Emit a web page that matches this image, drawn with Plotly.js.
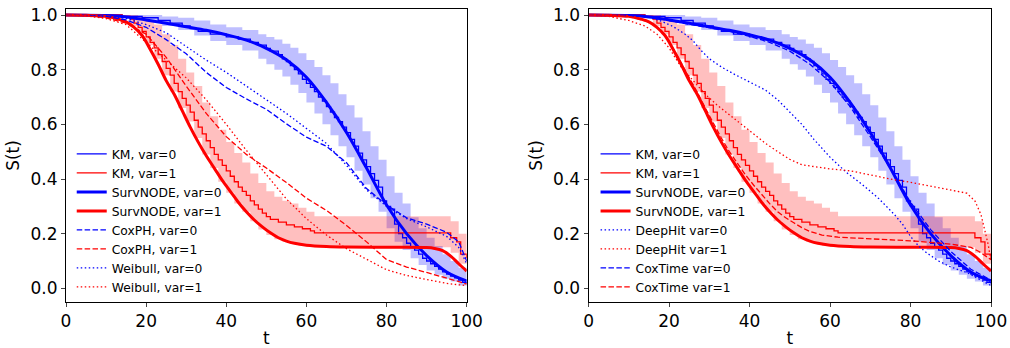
<!DOCTYPE html>
<html>
<head>
<meta charset="utf-8">
<script src="https://cdn.plot.ly/plotly-3.0.1.min.js"></script>
<style>html,body{margin:0;padding:0;background:#fff;}#chart{width:1010px;height:348px;}</style>
</head>
<body>
<div id="chart"></div>
<script>
// ---------- Kaplan-Meier estimates (step functions) ----------
const tKM0 = [0,14,19,23,26,29,31,33,36,40,43,46,48,50,51,53,54,55,56,57,58,59,60,61,62,63,64,65,66,67,68,69,70,71,72,73,74,75,76,77,78,79,80,81,82,83,84,85,86,87,88,89,90,91,92,93,94,95,96,97,98,99,100];
const sKM0 = [1.0,0.995,0.99,0.98,0.97,0.96,0.95,0.94,0.93,0.92,0.912,0.9,0.89,0.878,0.868,0.855,0.84,0.83,0.815,0.8,0.785,0.765,0.75,0.735,0.72,0.7,0.685,0.665,0.645,0.625,0.61,0.59,0.57,0.545,0.52,0.495,0.47,0.445,0.42,0.395,0.37,0.32,0.3,0.29,0.235,0.2,0.185,0.165,0.15,0.14,0.125,0.11,0.1,0.09,0.08,0.07,0.06,0.052,0.045,0.038,0.03,0.022,0.018];
const tKM1 = [0,14,16,17,18,19,20,21,22,23,24,25,26,27,28,29,30,31,32,33,34,35,36,37,38,39,40,41,42,43,44,45,46,47,48,49,50,51,53,55,57,59,61,62,96,97.5,98.5,100];
const sKM1 = [1.0,0.995,0.985,0.97,0.955,0.94,0.92,0.9,0.88,0.855,0.83,0.805,0.78,0.75,0.72,0.695,0.67,0.645,0.615,0.59,0.565,0.54,0.515,0.49,0.47,0.45,0.43,0.41,0.39,0.37,0.355,0.34,0.32,0.305,0.29,0.275,0.262,0.252,0.242,0.232,0.225,0.218,0.21,0.203,0.185,0.17,0.125,0.11];

// ---------- KM confidence bands ----------
const tBand0 = [0,14,20,24,28,32,36,40,44,48,50,52,54,56,58,60,62,64,66,68,70,72,74,76,78,80,82,84,86,88,90,92,94,96,98,100];
const loBand0 = [1,0.99,0.975,0.96,0.945,0.925,0.905,0.89,0.87,0.84,0.82,0.8,0.775,0.745,0.715,0.68,0.64,0.6,0.56,0.52,0.48,0.43,0.38,0.33,0.28,0.22,0.17,0.14,0.11,0.085,0.065,0.05,0.035,0.025,0.01,0.005];
const hiBand0 = [1,1,1,0.995,0.99,0.98,0.965,0.955,0.945,0.93,0.92,0.91,0.895,0.88,0.86,0.835,0.81,0.78,0.75,0.71,0.67,0.625,0.575,0.52,0.47,0.41,0.35,0.31,0.26,0.22,0.185,0.155,0.125,0.1,0.075,0.06];
const tBand1 = [0,12,16,18,20,22,24,26,28,30,32,34,36,38,40,42,44,46,48,50,52,54,56,58,60,62,94,96,98,100];
const loBand1 = [1,0.99,0.96,0.93,0.89,0.84,0.78,0.72,0.66,0.61,0.55,0.49,0.44,0.39,0.35,0.31,0.28,0.245,0.215,0.195,0.18,0.17,0.162,0.156,0.152,0.15,0.15,0.13,0.09,0.06];
const hiBand1 = [1,1,1,0.995,0.98,0.965,0.93,0.89,0.84,0.79,0.74,0.68,0.63,0.58,0.535,0.495,0.46,0.42,0.385,0.355,0.335,0.32,0.31,0.295,0.28,0.264,0.264,0.245,0.2,0.18];

// ---------- SurvNODE ----------
const tNODE0 = [0,10,15,20,25,30,35,40,45,50,55,60,65,70,75,80,85,90,95,100];
const sNODE0 = [1.0,0.998,0.993,0.982,0.97,0.957,0.944,0.928,0.908,0.878,0.836,0.772,0.68,0.57,0.44,0.305,0.2,0.12,0.06,0.027];
const tNODE1 = [0,5,10,13,15,17,19,21,23,25,27,29,31,33,35,37,39,41,43,45,47,49,51,53,55,57,60,65,70,80,90,92,94,96,98,100];
const sNODE1 = [1.0,0.999,0.995,0.985,0.975,0.955,0.925,0.875,0.82,0.76,0.71,0.65,0.59,0.535,0.485,0.44,0.395,0.355,0.315,0.28,0.25,0.225,0.203,0.185,0.173,0.165,0.158,0.153,0.151,0.15,0.149,0.146,0.138,0.118,0.09,0.063];

// ---------- CoxPH / Weibull (left panel) ----------
const tParam = [0,5,10,15,20,25,30,35,40,45,50,55,60,65,70,75,80,85,90,95,98,100];
const sCoxPH0 = [1,0.999,0.995,0.982,0.955,0.91,0.858,0.79,0.735,0.693,0.655,0.602,0.553,0.52,0.46,0.365,0.305,0.258,0.235,0.205,0.17,0.1];
const sCoxPH1 = [1,0.998,0.99,0.97,0.93,0.845,0.74,0.64,0.555,0.49,0.44,0.387,0.33,0.285,0.23,0.17,0.105,0.078,0.058,0.038,0.025,0.015];
const sWeib0 = [1,0.999,0.996,0.988,0.965,0.935,0.885,0.835,0.79,0.74,0.69,0.64,0.585,0.53,0.45,0.36,0.3,0.255,0.225,0.19,0.15,0.09];
const sWeib1 = [1,0.997,0.987,0.965,0.9,0.835,0.77,0.69,0.6,0.505,0.415,0.327,0.255,0.195,0.145,0.105,0.068,0.047,0.032,0.018,0.013,0.01];

// ---------- DeepHit / CoxTime (right panel) ----------
const tDH0 = [0,10,15,18,21,24,26,28,30,33,36,40,44,47,50,53,56,60,64,68,72,76,78,80,82,84,87,90,94,97,100];
const sDH0 = [1.0,0.998,0.993,0.978,0.958,0.93,0.905,0.87,0.84,0.81,0.785,0.755,0.725,0.69,0.645,0.6,0.545,0.48,0.425,0.38,0.33,0.27,0.235,0.19,0.155,0.13,0.1,0.078,0.058,0.035,0.01];
const tDH1 = [0,5,10,14,17,20,23,26,29,32,35,38,41,44,47,50,53,56,60,65,70,75,80,85,90,94,96,97.5,98.5,99.3,100];
const sDH1 = [1.0,0.995,0.98,0.96,0.93,0.88,0.81,0.76,0.71,0.67,0.635,0.6,0.565,0.53,0.5,0.472,0.452,0.445,0.437,0.43,0.415,0.4,0.388,0.373,0.36,0.348,0.32,0.27,0.21,0.16,0.1];
const tCT0 = [0,10,15,20,25,30,35,40,45,50,55,60,65,70,75,80,85,90,95,100];
const sCT0 = [1.0,0.998,0.993,0.98,0.968,0.955,0.94,0.922,0.9,0.868,0.82,0.755,0.665,0.555,0.44,0.315,0.215,0.135,0.07,0.03];
const tCT1 = [0,5,10,15,17,19,21,23,25,27,29,31,33,35,37,39,41,43,45,47,49,51,53,55,58,62,70,80,90,95,97,99,100];
const sCT1 = [1.0,0.999,0.995,0.975,0.955,0.925,0.878,0.825,0.767,0.718,0.66,0.603,0.55,0.5,0.457,0.415,0.378,0.342,0.31,0.28,0.258,0.24,0.222,0.208,0.195,0.187,0.182,0.174,0.162,0.15,0.135,0.115,0.105];

const xTicks = [0,20,40,60,80,100];
const yTicks = [0,0.2,0.4,0.6,0.8,1.0];

const BLUE = '#0000ff', RED = '#ff0000';
const DASH = '5.5px,2.4px', DOT = '1.5px,2.5px';

function band(t, lo, hi, color, xa, ya, leg){
  return [
    {x:t, y:lo, xaxis:xa, yaxis:ya, type:'scatter', mode:'lines', line:{width:0, shape:'hv'}, showlegend:false, legend:leg, hoverinfo:'skip'},
    {x:t, y:hi, xaxis:xa, yaxis:ya, type:'scatter', mode:'lines', line:{width:0, shape:'hv'}, fill:'tonexty', fillcolor:color, showlegend:false, legend:leg, hoverinfo:'skip'}
  ];
}
function line(t, s, name, color, width, dash, shape, xa, ya, leg){
  return {x:t, y:s, name:name, xaxis:xa, yaxis:ya, type:'scatter', mode:'lines',
          line:{color:color, width:width, dash:dash, shape:shape}, legend:leg, hoverinfo:'skip'};
}
function common(xa, ya, leg){
  return [].concat(
    band(tBand0, loBand0, hiBand0, 'rgba(0,0,255,0.25)', xa, ya, leg),
    band(tBand1, loBand1, hiBand1, 'rgba(255,0,0,0.25)', xa, ya, leg),
    [line(tKM0, sKM0, 'KM, var=0', BLUE, 1.3, 'solid', 'hv', xa, ya, leg),
     line(tKM1, sKM1, 'KM, var=1', RED, 1.3, 'solid', 'hv', xa, ya, leg),
     line(tNODE0, sNODE0, 'SurvNODE, var=0', BLUE, 3, 'solid', 'spline', xa, ya, leg),
     line(tNODE1, sNODE1, 'SurvNODE, var=1', RED, 3, 'solid', 'spline', xa, ya, leg)]
  );
}

const traces = [].concat(
  common('x', 'y', 'legend'),
  [line(tParam, sCoxPH0, 'CoxPH, var=0', BLUE, 1.3, DASH, 'linear', 'x', 'y', 'legend'),
   line(tParam, sCoxPH1, 'CoxPH, var=1', RED, 1.3, DASH, 'linear', 'x', 'y', 'legend'),
   line(tParam, sWeib0, 'Weibull, var=0', BLUE, 1.3, DOT, 'linear', 'x', 'y', 'legend'),
   line(tParam, sWeib1, 'Weibull, var=1', RED, 1.3, DOT, 'linear', 'x', 'y', 'legend')],
  common('x2', 'y2', 'legend2'),
  [line(tDH0, sDH0, 'DeepHit var=0', BLUE, 1.3, DOT, 'linear', 'x2', 'y2', 'legend2'),
   line(tDH1, sDH1, 'DeepHit var=1', RED, 1.3, DOT, 'linear', 'x2', 'y2', 'legend2'),
   line(tCT0, sCT0, 'CoxTime var=0', BLUE, 1.3, DASH, 'linear', 'x2', 'y2', 'legend2'),
   line(tCT1, sCT1, 'CoxTime var=1', RED, 1.3, DASH, 'linear', 'x2', 'y2', 'legend2')]
);

const FONT = 'DejaVu Sans, sans-serif';
function xax(domain, anchor){
  return {domain:domain, anchor:anchor, range:[0,100], tickvals:xTicks, ticks:'outside', ticklen:4, tickwidth:1,
    showline:true, linecolor:'#000', linewidth:1, mirror:true, showgrid:false, zeroline:false,
    tickfont:{family:FONT, size:17, color:'#000'}, title:{text:'t', font:{family:FONT, size:17, color:'#000'}, standoff:6}, automargin:false};
}
function yax(anchor){
  return {domain:[0,1], anchor:anchor, range:[-0.050,1.022], tickvals:yTicks, tickformat:'.1f', ticks:'outside', ticklen:4, tickwidth:1,
    showline:true, linecolor:'#000', linewidth:1, mirror:true, showgrid:false, zeroline:false,
    tickfont:{family:FONT, size:17, color:'#000'}, title:{text:'S(t)', font:{family:FONT, size:17, color:'#000'}, standoff:6}, automargin:false};
}
const legStyle = {font:{family:FONT, size:12.3, color:'#000'}, bgcolor:'rgba(0,0,0,0)', borderwidth:0, xanchor:'left', yanchor:'top', traceorder:'normal', tracegroupgap:0};

const layout = {
  width:1010, height:348,
  margin:{l:66, r:19, t:9, b:46},
  paper_bgcolor:'#fff', plot_bgcolor:'#fff',
  showlegend:true,
  xaxis: xax([0, 0.4332], 'y'),
  yaxis: yax('x'),
  xaxis2: xax([0.5649, 1], 'y2'),
  yaxis2: yax('x2'),
  legend: Object.assign({x:0.0062, y:0.555}, legStyle),
  legend2: Object.assign({x:0.5725, y:0.555}, legStyle)
};

Plotly.newPlot('chart', traces, layout, {staticPlot:true, displayModeBar:false});
</script>
</body>
</html>
